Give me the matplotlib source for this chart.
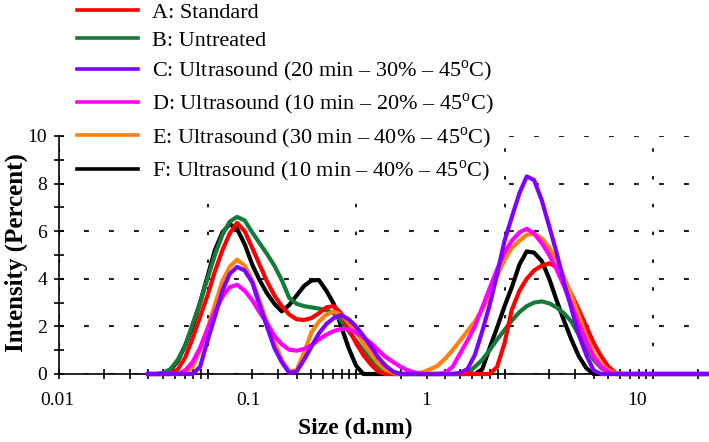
import numpy as np
import matplotlib
matplotlib.use('Agg')
import matplotlib.pyplot as plt
from matplotlib.lines import Line2D
from matplotlib.ticker import FixedLocator, LogLocator, NullFormatter

plt.rcParams.update({'font.family': 'Liberation Serif',
                     'mathtext.fontset': 'custom',
                     'mathtext.rm': 'Liberation Serif',
                     'lines.scale_dashes': False,
                     })

# size bins (d.nm), log spaced
size = [0.0398, 0.0447, 0.0501, 0.0562, 0.0631, 0.0708, 0.0794, 0.0891, 0.1, 0.112,
        0.126, 0.141, 0.158, 0.178, 0.2, 0.224, 0.251, 0.282, 0.316, 0.355,
        0.398, 0.447, 0.501, 0.562, 0.631, 0.708, 0.794, 0.891, 1.0, 1.12,
        1.26, 1.41, 1.58, 1.78, 2.0, 2.24, 2.51, 2.82, 3.16, 3.55,
        3.98, 4.47, 5.01, 5.62, 6.31, 7.08, 7.94, 8.91, 10.0, 11.2,
        12.6, 14.1, 15.8, 17.8, 20.0, 22.4, 25.1, 28.2, 31.6, 35.5,
        39.8, 44.7, 50.1, 56.2, 63.1, 70.8, 79.4, 251.0]

int_a = [0, 0, 0, 0, 0.2, 0.7, 1.5, 2.4, 3.3, 4.3,
         5.2, 5.9, 6.35, 6.0, 5.3, 4.6, 3.9, 3.3, 2.85, 2.5,
         2.3, 2.27, 2.35, 2.55, 2.8, 2.85, 2.55, 1.9, 1.3, 0.8,
         0.4, 0.1, 0, 0, 0, 0, 0, 0, 0, 0,
         0, 0, 0, 0, 0, 0, 0, 0.3, 1.3, 2.7,
         3.5, 4.0, 4.35, 4.55, 4.65, 4.5, 3.95, 3.35, 2.7, 2.0,
         1.3, 0.75, 0.3, 0.05, 0, 0, 0, 0]

int_b = [0, 0, 0.05, 0.2, 0.6, 1.2, 2.1, 3.0, 4.0, 5.0,
         5.85, 6.4, 6.6, 6.45, 5.95, 5.5, 5.05, 4.55, 3.95, 3.2,
         2.95, 2.85, 2.8, 2.75, 2.68, 2.55, 2.25, 1.8, 1.4, 1.0,
         0.6, 0.3, 0.1, 0, 0, 0, 0, 0, 0, 0,
         0, 0, 0, 0.05, 0.3, 0.6, 1.0, 1.45, 1.85, 2.25,
         2.6, 2.85, 3.0, 3.05, 2.97, 2.8, 2.55, 2.2, 1.65, 1.1,
         0.6, 0.25, 0.06, 0, 0, 0, 0, 0]

int_c = [0, 0, 0, 0, 0, 0, 0, 0.3, 1.4, 2.4,
         3.5, 4.2, 4.5, 4.35, 3.85, 2.9, 2.0, 1.1, 0.5, 0.05,
         0.1, 0.6, 1.15, 1.7, 2.1, 2.35, 2.48, 2.3, 2.0, 1.6,
         1.15, 0.7, 0.35, 0.1, 0, 0, 0, 0, 0, 0,
         0, 0, 0.05, 0.2, 0.8, 1.8, 2.9, 4.2, 5.6, 6.6,
         7.6, 8.3, 8.15, 7.3, 6.2, 5.1, 3.85, 2.75, 1.65, 0.8,
         0.15, 0, 0, 0, 0, 0, 0, 0]

int_d = [0, 0, 0, 0, 0, 0.15, 0.5, 1.1, 1.9, 2.6,
         3.25, 3.65, 3.75, 3.5, 3.1, 2.6, 2.15, 1.6, 1.25, 1.02,
         0.98, 1.05, 1.2, 1.45, 1.65, 1.8, 1.9, 1.88, 1.75, 1.55,
         1.3, 1.0, 0.72, 0.5, 0.3, 0.15, 0.06, 0, 0, 0,
         0.05, 0.3, 0.85, 1.4, 2.0, 2.8, 3.6, 4.4, 5.1, 5.6,
         5.95, 6.1, 5.9, 5.5, 5.0, 4.4, 3.7, 2.9, 2.1, 1.35,
         0.7, 0.3, 0.08, 0, 0, 0, 0, 0]

int_e = [0, 0, 0, 0, 0, 0, 0.3, 1.0, 1.9, 2.9,
         3.9, 4.5, 4.8, 4.55, 3.95, 3.1, 2.2, 1.35, 0.6, 0.12,
         0.15, 0.9, 1.75, 2.2, 2.5, 2.62, 2.5, 2.15, 1.75, 1.3,
         0.85, 0.45, 0.18, 0.04, 0, 0, 0.02, 0.08, 0.2, 0.35,
         0.65, 1.0, 1.4, 1.8, 2.2, 2.7, 3.3, 4.1, 4.8, 5.3,
         5.6, 5.85, 5.9, 5.7, 5.3, 4.8, 4.1, 3.3, 2.45, 1.6,
         0.87, 0.4, 0.15, 0.04, 0, 0, 0, 0]

int_f = [0, 0, 0, 0.15, 0.55, 1.2, 2.0, 3.0, 4.1, 5.2,
         5.95, 6.3, 6.1, 5.45, 4.6, 3.95, 3.4, 2.95, 2.63, 2.9,
         3.3, 3.7, 3.93, 3.95, 3.5, 2.95, 2.0, 1.1, 0.35, 0,
         0, 0, 0, 0, 0, 0, 0, 0, 0, 0,
         0, 0, 0, 0, 0, 0.2, 1.1, 1.95, 2.85, 3.65,
         4.6, 5.15, 5.1, 4.75, 4.0, 3.1, 2.25, 1.45, 0.75, 0.25,
         0, 0, 0, 0, 0, 0, 0, 0]

labels = ['A: Standard',
          'B: Untreated',
          'C: Ultrasound (20 min \u2013 30% \u2013 45$^{\\rm o}$C)',
          'D: Ultrasound (10 min \u2013 20% \u2013 45$^{\\rm o}$C)',
          'E: Ultrasound (30 min \u2013 40% \u2013 45$^{\\rm o}$C)',
          'F: Ultrasound (10 min \u2013 40% \u2013 45$^{\\rm o}$C)']
colors = ['#ff0000', '#167a3c', '#7f00ff', '#ff00ff', '#ff8010', '#000000']
series = [int_a, int_b, int_c, int_d, int_e, int_f]

# x tick labels as they are printed on the original figure
xtick_pos = [0.01, 0.1, 1, 100]
xtick_txt = ['0.01', '0.1', '1', '10']
xtick_dx = [-2, 41, 70, -16]  # pixel shift of each printed label

fig = plt.figure(figsize=(7.09, 4.42), dpi=100)
ax = fig.add_axes([59 / 709, 68 / 442, 650 / 709, 238 / 442])

# drawing order (purple ends on top)
for i in [5, 1, 0, 4, 3, 2]:
    ax.plot(size, series[i], color=colors[i], lw=3.0, zorder=3, clip_on=False)

ax.set_xscale('log')
ax.set_xlim(0.01, 238)
ax.set_ylim(0, 10)

for s in ['top', 'right']:
    ax.spines[s].set_visible(False)
for s in ['left', 'bottom']:
    ax.spines[s].set_linewidth(1.2)

ax.xaxis.set_major_locator(FixedLocator([0.01, 0.1, 1, 10, 100]))
ax.xaxis.set_minor_locator(LogLocator(base=10, subs=np.arange(2, 10)))
ax.xaxis.set_major_formatter(NullFormatter())
ax.xaxis.set_minor_formatter(NullFormatter())
ax.set_yticks([0, 2, 4, 6, 8, 10])
ax.set_yticks([1, 3, 5, 7, 9], minor=True)
ax.tick_params(which='both', direction='inout', length=7, width=1.2, labelsize=14)
ax.tick_params(axis='y', pad=5)

for v, t, dx in zip(xtick_pos, xtick_txt, xtick_dx):
    ax.annotate(t, xy=(v, 0), xycoords=('data', 'axes fraction'),
                xytext=(dx * 0.72, -31 * 0.72), textcoords='offset points',
                ha='center', va='baseline', fontsize=14)

ax.yaxis.grid(True, color='#222222', lw=1.5, linestyle=(0, (3.5, 14.5)))
ax.xaxis.grid(True, which='major', color='#222222', lw=1.5, linestyle=(0, (2.5, 17.5)))
ax.set_axisbelow(True)

ax.set_xlabel('Size (d.nm)', fontsize=17, fontweight='bold')
ax.xaxis.set_label_coords(0.455, -0.185)
ax.set_ylabel('Intensity (Percent)', fontsize=18, fontweight='bold')
ax.yaxis.set_label_coords(-0.047, 0.51)

handles = [Line2D([], [], color=c, lw=2.6) for c in colors]
leg = ax.legend(handles, labels, loc='upper left', bbox_to_anchor=(66 / 709, 1 + 9 / 442),
                bbox_transform=fig.transFigure, fontsize=16, frameon=True,
                framealpha=1, edgecolor='none', facecolor='white', fancybox=False,
                borderpad=0.5, borderaxespad=0, handlelength=2.75, handletextpad=0.6,
                labelspacing=0.35)
leg.set_zorder(10)

plt.savefig('out.png', dpi=100)
